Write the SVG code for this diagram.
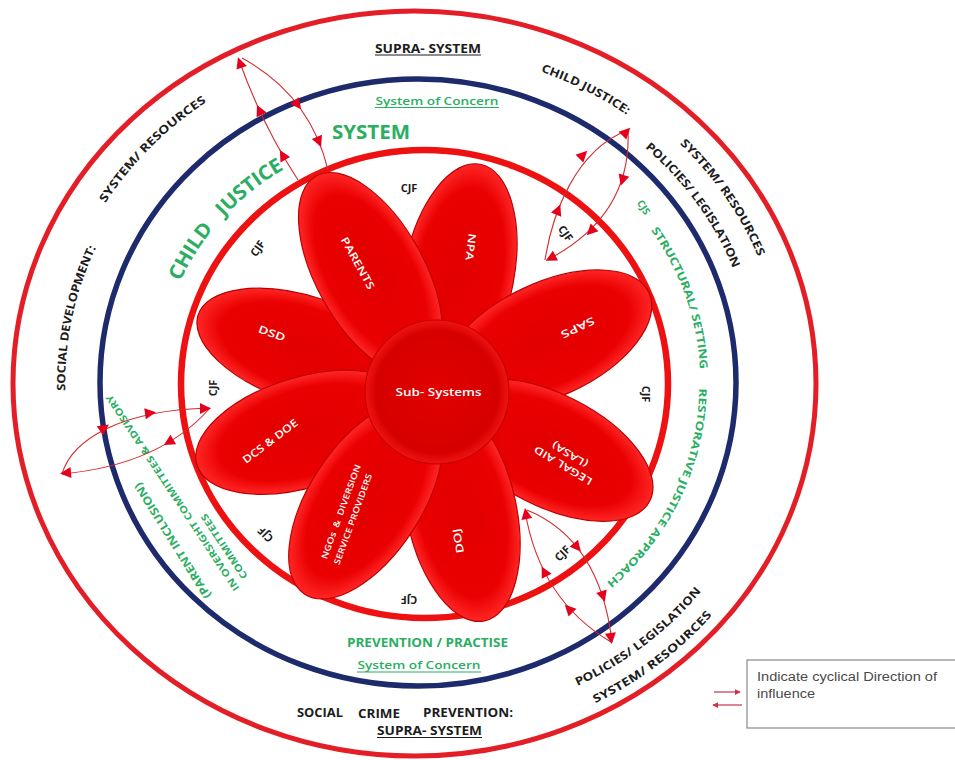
<svg xmlns="http://www.w3.org/2000/svg" width="955" height="760" viewBox="0 0 955 760">
<defs>
  <radialGradient id="petalGrad" cx="50%" cy="50%" r="50%">
    <stop offset="0" stop-color="#e10000"/>
    <stop offset="0.78" stop-color="#ea0000"/>
    <stop offset="1" stop-color="#ff2626"/>
  </radialGradient>
  <radialGradient id="hubGrad" cx="50%" cy="50%" r="50%">
    <stop offset="0" stop-color="#e20000"/>
    <stop offset="0.85" stop-color="#d60000"/>
    <stop offset="1" stop-color="#f01414"/>
  </radialGradient>
  <path id="ah" d="M6,0 L-5,-5.5 L-5,5.5 Z"/>
  <marker id="lm" viewBox="0 0 8 8" refX="7" refY="4" markerWidth="6" markerHeight="6" orient="auto" markerUnits="userSpaceOnUse">
    <path d="M0,0 L8,4 L0,8 Z" fill="#c8334a"/>
  </marker>
  <!-- outer ring arcs -->
  <path id="arcCJ" d="M452.4,47.6 A358.9,337 0 0 1 698.1,172.3"/>
  <path id="arcSR1" d="M611.6,86.5 A370.6,348 0 0 1 786,341"/>
  <path id="arcPL1" d="M589,103.5 A342.9,322 0 0 1 757,335.4"/>
  <path id="arcSR2" d="M62.7,280.4 A371.7,349 0 0 1 283,57.8"/>
  <path id="arcSD" d="M71.6,467.1 A357.8,336 0 0 1 132.6,180.3"/>
  <path id="arcPL2" d="M501.4,706.7 A354.6,333 0 0 0 739.9,522.7"/>
  <path id="arcSR3" d="M504.6,729.6 A379.1,356 0 0 0 761,534.6"/>
  <!-- inner ring arcs -->
  <path id="arcCHJ" d="M153.4,338.8 A268.6,257 0 0 1 339,137.4"/>
  <path id="arcST" d="M623.3,190.6 A287.4,275 0 0 1 703.1,417.5"/>
  <path id="arcRJ" d="M699,335.6 A285.3,273 0 0 1 565.8,616.5"/>
</defs>
<style>
  .lbl{font-family:'Open Sans','Liberation Sans',sans-serif;font-weight:700}
  .blk{fill:#1c1c1c}
  .grn{fill:#2aae62}
  .wht{fill:#ffffff;font-weight:600}
  .c{dominant-baseline:central;text-anchor:middle}
  .m{text-anchor:middle}
  .petal{fill:url(#petalGrad);stroke:#bb0000;stroke-width:1.2}
  .cyc{fill:none;stroke:#d42a2a;stroke-width:1.1}
  .ahd{fill:#e5001c}
  .ul{stroke-width:1.1}
  .pre{white-space:pre}
</style>
<rect width="955" height="760" fill="#ffffff"/>

<g id="rings">
  <ellipse cx="414.5" cy="383.5" rx="401.5" ry="372.5" fill="none" stroke="#e41e26" stroke-width="5"/>
  <ellipse cx="418" cy="382.5" rx="318" ry="303.5" fill="none" stroke="#1d2a6c" stroke-width="5.5"/>
  <ellipse cx="424.5" cy="384" rx="243.5" ry="234" fill="none" stroke="#ee1111" stroke-width="6.5"/>
</g>

<g id="supra-labels" class="lbl blk">
  <text x="428" y="52.5" font-size="12.5" class="m" textLength="106" lengthAdjust="spacingAndGlyphs">SUPRA- SYSTEM</text>
  <line x1="375" y1="55" x2="481" y2="55" stroke="#1c1c1c" class="ul"/>
  <text font-size="11.5" class="c"><textPath href="#arcCJ" startOffset="50%" textLength="98" lengthAdjust="spacingAndGlyphs">CHILD JUSTICE:</textPath></text>
  <text font-size="11.5" class="c"><textPath href="#arcSR1" startOffset="50%" textLength="140" lengthAdjust="spacingAndGlyphs">SYSTEM/ RESOURCES</textPath></text>
  <text font-size="11.5" class="c"><textPath href="#arcPL1" startOffset="50%" textLength="153" lengthAdjust="spacingAndGlyphs">POLICIES/ LEGISLATION</textPath></text>
  <text font-size="11.5" class="c"><textPath href="#arcSR2" startOffset="50%" textLength="146" lengthAdjust="spacingAndGlyphs">SYSTEM/ RESOURCES</textPath></text>
  <text font-size="11.5" class="c"><textPath href="#arcSD" startOffset="50%" textLength="150" lengthAdjust="spacingAndGlyphs">SOCIAL DEVELOPMENT:</textPath></text>
  <text font-size="11.5" class="c"><textPath href="#arcPL2" startOffset="50%" textLength="155" lengthAdjust="spacingAndGlyphs">POLICIES/ LEGISLATION</textPath></text>
  <text font-size="11.5" class="c"><textPath href="#arcSR3" startOffset="50%" textLength="145" lengthAdjust="spacingAndGlyphs">SYSTEM/ RESOURCES</textPath></text>
  <text x="320" y="716.5" font-size="12" class="m" textLength="46" lengthAdjust="spacingAndGlyphs">SOCIAL</text>
  <text x="379" y="718" font-size="12" class="m" textLength="42" lengthAdjust="spacingAndGlyphs">CRIME</text>
  <text x="468" y="716.5" font-size="12" class="m" textLength="90" lengthAdjust="spacingAndGlyphs">PREVENTION:</text>
  <text x="429.5" y="735" font-size="12.5" class="m" textLength="105" lengthAdjust="spacingAndGlyphs">SUPRA- SYSTEM</text>
  <line x1="377" y1="737.5" x2="482" y2="737.5" stroke="#1c1c1c" class="ul"/>
</g>

<g id="system-labels" class="lbl grn">
  <text x="437" y="104.5" font-size="11" font-weight="600" class="m" textLength="123" lengthAdjust="spacingAndGlyphs">System of Concern</text>
  <line x1="375" y1="107.5" x2="499" y2="107.5" stroke="#2aae62" class="ul"/>
  <text x="371" y="138.5" font-size="20" class="m" textLength="78" lengthAdjust="spacingAndGlyphs">SYSTEM</text>
  <text font-size="20" class="c pre" xml:space="preserve"><textPath href="#arcCHJ" startOffset="50%" textLength="160" lengthAdjust="spacingAndGlyphs">CHILD   JUSTICE</textPath></text>
  <text x="644" y="207" font-size="10" class="c" transform="rotate(57 644 207)">CJS</text>
  <text font-size="11" class="c"><textPath href="#arcST" startOffset="50%" textLength="152" lengthAdjust="spacingAndGlyphs">STRUCTURAL/ SETTING</textPath></text>
  <text font-size="10.5" class="c"><textPath href="#arcRJ" startOffset="50%" textLength="225" lengthAdjust="spacingAndGlyphs">RESTORATIVE JUSTICE APPROACH</textPath></text>
  <text x="427.5" y="647" font-size="12" class="m" textLength="161" lengthAdjust="spacingAndGlyphs">PREVENTION / PRACTISE</text>
  <text x="419" y="669" font-size="11" font-weight="600" class="m" textLength="123" lengthAdjust="spacingAndGlyphs">System of Concern</text>
  <line x1="357" y1="672" x2="481" y2="672" stroke="#2aae62" class="ul"/>
  <text x="172" y="541" font-size="11" class="c" transform="rotate(238 172 541)" textLength="134" lengthAdjust="spacingAndGlyphs">(PARENT INCLUSION)</text>
  <text x="172.5" y="493" font-size="9.5" class="c" transform="rotate(236.5 172.5 493)" textLength="233" lengthAdjust="spacingAndGlyphs">IN OVERSIGHT COMMITTEES &amp; ADVISORY</text>
  <text x="224" y="546.5" font-size="9.5" class="c" transform="rotate(236.5 224 546.5)" textLength="76" lengthAdjust="spacingAndGlyphs">COMMITTEES</text>
</g>

<g id="cjf-labels" class="lbl blk" font-size="11">
  <text x="409" y="187" class="c">CJF</text>
  <text x="257" y="248" class="c" transform="rotate(-55 257 248)">CJF</text>
  <text x="212" y="388" class="c" transform="rotate(-90 212 388)">CJF</text>
  <text x="265" y="535" class="c" transform="rotate(225 265 535)">CJF</text>
  <text x="409" y="600" class="c" transform="rotate(180 409 600)">CJF</text>
  <text x="562" y="553" class="c" transform="rotate(-45 562 553)">CJF</text>
  <text x="646" y="394" class="c" transform="rotate(90 646 394)">CJF</text>
  <text x="566" y="233" class="c" transform="rotate(55 566 233)">CJF</text>
</g>

<g id="petals">
  <g id="petal-dsd">
    <ellipse class="petal" rx="112" ry="53" transform="translate(304.7,349.4) rotate(198)"/>
    <text x="272" y="333" font-size="10.5" class="lbl wht c" transform="rotate(20 272 333)" textLength="28" lengthAdjust="spacingAndGlyphs">DSD</text>
  </g>
  <g id="petal-npa">
    <ellipse class="petal" rx="112" ry="55" transform="translate(458.9,274.2) rotate(281)"/>
    <text x="471" y="247" font-size="10.5" class="lbl wht c" transform="rotate(97 471 247)" textLength="27" lengthAdjust="spacingAndGlyphs">NPA</text>
  </g>
  <g id="petal-saps">
    <ellipse class="petal" rx="112" ry="57" transform="translate(547.5,340) rotate(335)"/>
    <text x="578" y="328" font-size="10.5" class="lbl wht c" transform="rotate(155 578 328)" textLength="36" lengthAdjust="spacingAndGlyphs">SAPS</text>
  </g>
  <g id="petal-legal">
    <ellipse class="petal" rx="112" ry="56" transform="translate(550,450.1) rotate(27)"/>
    <text x="563" y="466" font-size="10" class="lbl wht c" transform="rotate(211 563 466)" textLength="66" lengthAdjust="spacingAndGlyphs">LEGAL AID</text>
    <text x="569.7" y="454.9" font-size="10" class="lbl wht c" transform="rotate(211 569.7 454.9)" textLength="40" lengthAdjust="spacingAndGlyphs">(LASA)</text>
  </g>
  <g id="petal-doj">
    <ellipse class="petal" rx="112" ry="55" transform="translate(461.4,511.3) rotate(78)"/>
    <text x="458" y="541" font-size="10.5" class="lbl wht c" transform="rotate(-100 458 541)" textLength="25" lengthAdjust="spacingAndGlyphs">DOJ</text>
  </g>
  <g id="petal-dcs">
    <ellipse class="petal" rx="112" ry="55" transform="translate(304,432.3) rotate(163)"/>
    <text x="270" y="441" font-size="10.5" class="lbl wht c" transform="rotate(-37 270 441)" textLength="66" lengthAdjust="spacingAndGlyphs">DCS &amp; DOE</text>
  </g>
  <g id="petal-ngos">
    <ellipse class="petal" rx="112" ry="56" transform="translate(365.7,500.2) rotate(123)"/>
    <text x="340.5" y="511.5" font-size="8.5" class="lbl wht c pre" xml:space="preserve" transform="rotate(-70 340.5 511.5)" textLength="100" lengthAdjust="spacingAndGlyphs">NGOs  &amp;  DIVERSION</text>
    <text x="352.5" y="519" font-size="8.5" class="lbl wht c" transform="rotate(-70 352.5 519)" textLength="96" lengthAdjust="spacingAndGlyphs">SERVICE PROVIDERS</text>
  </g>
  <g id="petal-parents">
    <ellipse class="petal" rx="112" ry="54" transform="translate(370.5,273.9) rotate(241)"/>
    <text x="358" y="263" font-size="10.5" class="lbl wht c" transform="rotate(61 358 263)" textLength="58" lengthAdjust="spacingAndGlyphs">PARENTS</text>
  </g>
  <g id="hub">
    <circle cx="437" cy="392" r="72" fill="url(#hubGrad)" stroke="#c40000" stroke-width="1.2"/>
    <text x="438.5" y="391" font-size="11.5" class="lbl wht c" textLength="86" lengthAdjust="spacingAndGlyphs">Sub- Systems</text>
  </g>
</g>

<g id="connectors">
  <!-- loop A top-left -->
  <path class="cyc" d="M298,180 Q262,125 239,60"/>
  <path class="cyc" d="M242,58 Q310,95 328,170"/>
  <use href="#ah" class="ahd" transform="translate(240,63) rotate(-109.5)"/>
  <use href="#ah" class="ahd" transform="translate(282.8,155.3) rotate(-120)"/>
  <use href="#ah" class="ahd" transform="translate(259.5,110.4) rotate(-115)"/>
  <use href="#ah" class="ahd" transform="translate(297.5,104.5) rotate(52.5)"/>
  <use href="#ah" class="ahd" transform="translate(318.8,141.5) rotate(67.4)"/>
  <!-- loop B top-right -->
  <path class="cyc" d="M545,260 C552,215 575,150 628,130"/>
  <path class="cyc" d="M628,130 Q632,215 549,259"/>
  <use href="#ah" class="ahd" transform="translate(626,132) rotate(-45)"/>
  <use href="#ah" class="ahd" transform="translate(583,155) rotate(-45)"/>
  <use href="#ah" class="ahd" transform="translate(558,210) rotate(-68)"/>
  <use href="#ah" class="ahd" transform="translate(622.5,180) rotate(107)"/>
  <use href="#ah" class="ahd" transform="translate(591,231) rotate(135)"/>
  <use href="#ah" class="ahd" transform="translate(551,258) rotate(152)"/>
  <!-- loop C left -->
  <path class="cyc" d="M62,474 C72,440 120,410 210,408"/>
  <path class="cyc" d="M210,408 Q160,465 62,474"/>
  <use href="#ah" class="ahd" transform="translate(104,428) rotate(-35)"/>
  <use href="#ah" class="ahd" transform="translate(150,413) rotate(-8)"/>
  <use href="#ah" class="ahd" transform="translate(205,408.5) rotate(0)"/>
  <use href="#ah" class="ahd" transform="translate(169,442) rotate(149)"/>
  <use href="#ah" class="ahd" transform="translate(66,473) rotate(175)"/>
  <!-- loop D bottom-right -->
  <path class="cyc" d="M611,642 Q540,600 525,511"/>
  <path class="cyc" d="M527,510 Q600,540 612,642"/>
  <use href="#ah" class="ahd" transform="translate(526,514) rotate(-100)"/>
  <use href="#ah" class="ahd" transform="translate(544.4,571.8) rotate(-117)"/>
  <use href="#ah" class="ahd" transform="translate(569,609) rotate(-134)"/>
  <use href="#ah" class="ahd" transform="translate(577,547) rotate(50)"/>
  <use href="#ah" class="ahd" transform="translate(603,596) rotate(72)"/>
  <use href="#ah" class="ahd" transform="translate(611,638) rotate(83)"/>
</g>

<g id="legend">
  <rect x="747" y="660" width="215" height="68" fill="#ffffff" stroke="#8a8a8a" stroke-width="1.2"/>
  <text x="757" y="681" font-family="'Liberation Sans','Open Sans',sans-serif" font-size="12.5" fill="#4a4a4a" textLength="180" lengthAdjust="spacingAndGlyphs">Indicate cyclical Direction of</text>
  <text x="757" y="698" font-family="'Liberation Sans','Open Sans',sans-serif" font-size="12.5" fill="#4a4a4a" textLength="58" lengthAdjust="spacingAndGlyphs">influence</text>
  <line x1="714" y1="692" x2="740" y2="692" stroke="#c8334a" stroke-width="1.2" marker-end="url(#lm)"/>
  <line x1="742" y1="705" x2="713" y2="705" stroke="#c8334a" stroke-width="1.2" marker-end="url(#lm)"/>
</g>
</svg>
